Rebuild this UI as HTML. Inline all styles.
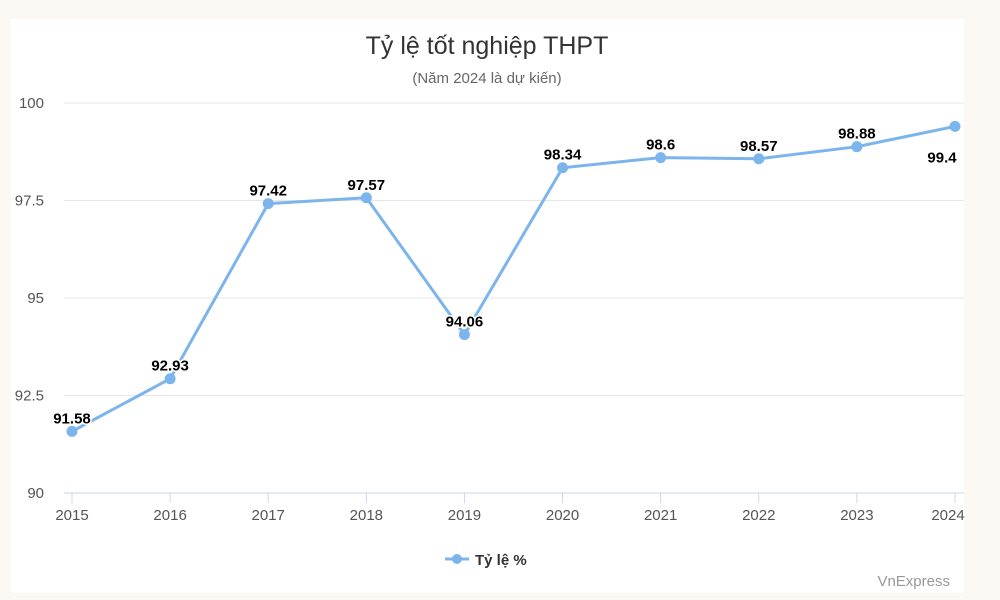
<!DOCTYPE html>
<html><head><meta charset="utf-8"><style>
body{margin:0;background:#fcf8f3;width:1000px;height:600px;overflow:hidden;font-family:"Liberation Sans",sans-serif}
#card{position:absolute;left:11px;top:19px;width:953px;height:574px;background:#fff}
</style></head><body>
<div id="card"></div>
<svg id="c" width="1000" height="600" style="position:absolute;left:0;top:0">
<text x="487" y="54" text-anchor="middle" font-size="25" fill="#333">Tỷ lệ tốt nghiệp THPT</text>
<text x="487" y="83" text-anchor="middle" font-size="15" fill="#666">(Năm 2024 là dự kiến)</text>
<g id="grid"></g><g id="marks"></g>
<g>
<line x1="445" y1="559" x2="469" y2="559" stroke="#7cb5ec" stroke-width="3"/>
<circle cx="457" cy="559" r="5" fill="#7cb5ec"/>
<text x="475" y="565" font-size="15" font-weight="bold" fill="#333">Tỷ lệ %</text>
</g>
<text x="950" y="586" text-anchor="end" font-size="15" fill="#999">VnExpress</text>
</svg>
<script>
const years=["2015","2016","2017","2018","2019","2020","2021","2022","2023","2024"];
const values=[91.58,92.93,97.42,97.57,94.06,98.34,98.6,98.57,98.88,99.4];
const labels=["91.58","92.93","97.42","97.57","94.06","98.34","98.6","98.57","98.88","99.4"];
const yTicks=[90,92.5,95,97.5,100];
const NS="http://www.w3.org/2000/svg";
const x=i=>72+i*(955-72)/(years.length-1);
const y=v=>493-(v-90)*39;
function mk(t,a,p,txt){const e=document.createElementNS(NS,t);for(const k in a)e.setAttribute(k,a[k]);if(txt!=null)e.textContent=txt;p.appendChild(e);return e;}
const g=document.getElementById('grid'),m=document.getElementById('marks');
yTicks.forEach(v=>{
 if(v>90){const l=mk('line',{x1:64,x2:964,y1:y(v),y2:y(v),stroke:'#e6e6e6','stroke-width':1},g);
 
 }
 const t=mk('text',{x:44,y:y(v)+5,'text-anchor':'end','font-size':15,fill:'#555'},g,String(v));
 
 
});
const ax=mk('line',{x1:64,x2:964,y1:493,y2:493,stroke:'#ccd6eb','stroke-width':1},g);


years.forEach((yr,i)=>{
 mk('line',{x1:x(i),x2:x(i),y1:493,y2:503,stroke:'#ccd6eb'},g);
 const t=mk('text',{x:Math.min(x(i),948),y:520,'text-anchor':'middle','font-size':15,fill:'#555'},g,yr);
 
 
});
const pl=mk('polyline',{points:values.map((v,i)=>x(i)+','+y(v)).join(' '),fill:'none',stroke:'#7cb5ec','stroke-width':3,'stroke-linejoin':'round'},m);


values.forEach((v,i)=>{
 const c=mk('circle',{cx:x(i),cy:y(v),r:5.5,fill:'#7cb5ec'},m);
 
 
 const t=mk('text',{x:Math.min(x(i),942),y:y(v)-8,'text-anchor':'middle','font-size':15,'font-weight':'bold',fill:'#000',stroke:'#fff','stroke-width':3,'paint-order':'stroke'},m,labels[i]);
 if(i==values.length-1)t.setAttribute('y',y(v)+36);
 
 
});
</script>
</body></html>
